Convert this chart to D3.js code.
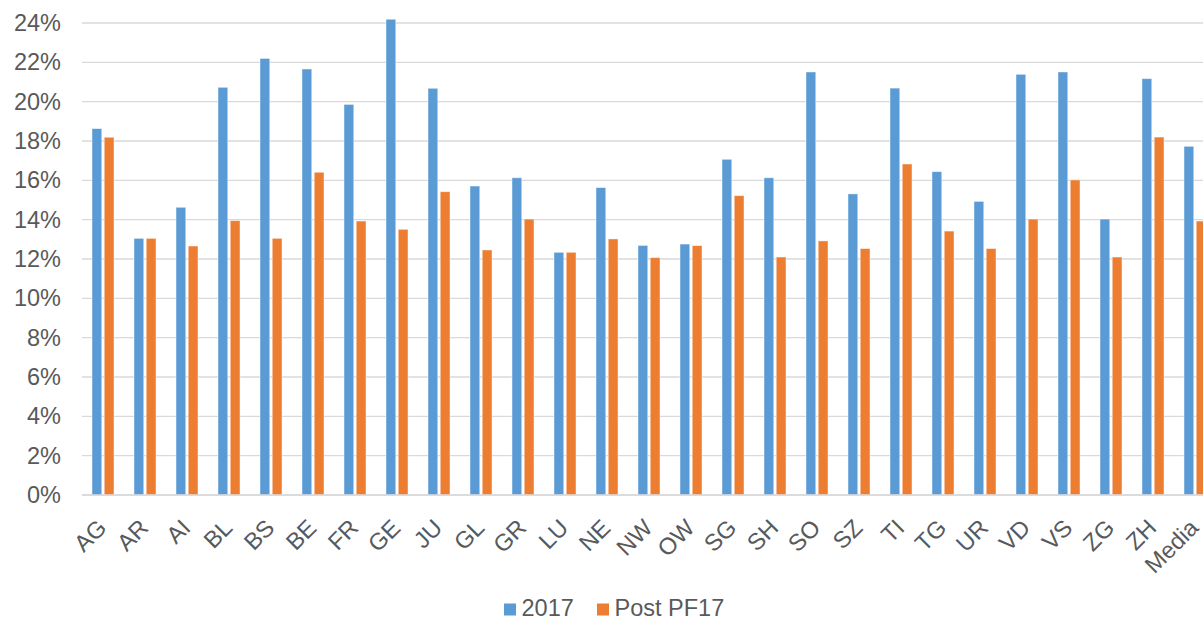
<!DOCTYPE html>
<html>
<head>
<meta charset="utf-8">
<script src="https://cdn.jsdelivr.net/npm/d3@7"></script>
<style>
  html, body { margin: 0; padding: 0; background: #fff; }
  svg { display: block; font-family: "Liberation Sans", Arial, sans-serif; }
</style>
</head>
<body>
<svg id="chart" width="1203" height="620"></svg>
<script>
// Cantons (plus the average) on the category axis
const cantons = ["AG","AR","AI","BL","BS","BE","FR","GE","JU","GL","GR","LU","NE","NW","OW",
                 "SG","SH","SO","SZ","TI","TG","UR","VD","VS","ZG","ZH","Media"];

// Rates in percent
const values2017 = [18.63,13.05,14.63,20.73,22.20,21.66,19.86,24.19,20.68,15.71,16.13,12.34,15.63,12.69,12.76,
                    17.07,16.13,21.51,15.31,20.69,16.44,14.93,21.39,21.51,14.03,21.17,17.73];
const valuesPost = [18.19,13.05,12.66,13.95,13.05,16.41,13.93,13.51,15.42,12.46,14.03,12.34,13.02,12.07,12.68,
                    15.22,12.10,12.92,12.53,16.83,13.42,12.53,14.03,16.02,12.10,18.20,13.93];

const seriesNames = ["2017", "Post PF17"];
const seriesColors = ["#5B9BD5", "#ED7D31"];
const yTicks = [0,2,4,6,8,10,12,14,16,18,20,22,24];

const FONT = 23.5;
const TEXT_COLOR = "#595959";

const svg = d3.select("#chart");

// Plot area; the last category runs past the right edge of the page
const plot = { left: 82, right: 1216, top: 23, bottom: 495 };

const x = d3.scaleBand().domain(cantons).range([plot.left, plot.right]).paddingInner(0).paddingOuter(0);
const y = d3.scaleLinear().domain([0, 24]).range([plot.bottom, plot.top]);
const inner = d3.scaleBand().domain(seriesNames).range([-11, 11]).paddingInner(0.2).paddingOuter(0);

// Horizontal gridlines
svg.append("g")
  .selectAll("line")
  .data(yTicks)
  .join("line")
    .attr("x1", plot.left)
    .attr("x2", plot.right)
    .attr("y1", d => y(d))
    .attr("y2", d => y(d))
    .attr("stroke", "#d9d9d9")
    .attr("stroke-width", 1.3);

// Y axis labels
const yAxis = d3.axisLeft(y).tickValues(yTicks).tickFormat(d => d + "%").tickSize(0).tickPadding(0);
svg.append("g")
  .attr("transform", `translate(${plot.left - 21},0)`)
  .call(yAxis)
  .call(g => g.select(".domain").remove())
  .call(g => g.selectAll("text")
    .attr("fill", TEXT_COLOR)
    .attr("font-size", FONT)
    .attr("font-family", "Liberation Sans, Arial, sans-serif"));

// Bars
const rows = cantons.map((c, i) => ({ c, vals: [values2017[i], valuesPost[i]] }));
const groups = svg.append("g")
  .selectAll("g")
  .data(rows)
  .join("g")
    .attr("transform", d => `translate(${x(d.c) + x.bandwidth() / 2},0)`);

groups.selectAll("rect")
  .data(d => d.vals.map((v, k) => ({ v, k })))
  .join("rect")
    .attr("x", d => inner(seriesNames[d.k]))
    .attr("width", inner.bandwidth())
    .attr("y", d => y(d.v))
    .attr("height", d => y(0) - y(d.v))
    .attr("fill", d => seriesColors[d.k])
    .attr("stroke", "#ffffff")
    .attr("stroke-opacity", 0.55)
    .attr("stroke-width", 0.8);

// Baseline
svg.append("line")
  .attr("x1", plot.left).attr("x2", plot.right)
  .attr("y1", y(0)).attr("y2", y(0))
  .attr("stroke", "#d9d9d9").attr("stroke-width", 1.5);

// Category labels, rotated 45 degrees and ending at the category centre
const xAxis = d3.axisBottom(x).tickSize(0).tickPadding(0);
svg.append("g")
  .attr("transform", `translate(0,${plot.bottom})`)
  .call(xAxis)
  .call(g => g.select(".domain").remove())
  .call(g => g.selectAll("text")
    .attr("fill", TEXT_COLOR)
    .attr("font-size", FONT)
    .attr("font-family", "Liberation Sans, Arial, sans-serif")
    .attr("text-anchor", "end")
    .attr("x", 0)
    .attr("y", 0)
    .attr("dy", "0.35em")
    .attr("transform", "translate(-1,28.5) rotate(-45)"));

// Legend
const legend = svg.append("g");
const legendItems = [{ name: seriesNames[0], color: seriesColors[0], x: 504 },
                     { name: seriesNames[1], color: seriesColors[1], x: 597 }];
legendItems.forEach(it => {
  legend.append("rect")
    .attr("x", it.x).attr("y", 603.5).attr("width", 12).attr("height", 12)
    .attr("fill", it.color);
  legend.append("text")
    .attr("x", it.x + 17.5).attr("y", 615.5)
    .attr("fill", TEXT_COLOR)
    .attr("font-size", FONT)
    .text(it.name);
});
</script>
</body>
</html>
